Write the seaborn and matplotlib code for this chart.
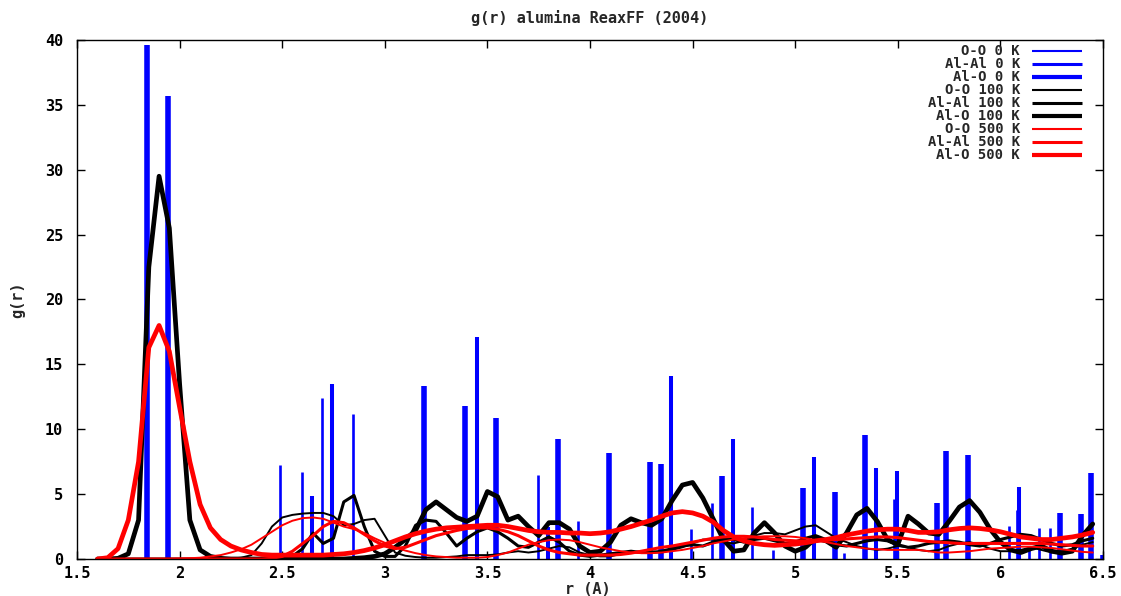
import matplotlib
matplotlib.use("Agg")
import matplotlib.pyplot as plt
import seaborn as sns
import pandas as pd

# ---------------- data ----------------
# sampling grid of the radial distribution (Angstrom)
r_grid = [1.60, 1.65, 1.70, 1.75, 1.80, 1.85, 1.90, 1.95, 2.00, 2.05,
          2.10, 2.15, 2.20, 2.25, 2.30, 2.35, 2.40, 2.45, 2.50, 2.55,
          2.60, 2.65, 2.70, 2.75, 2.80, 2.85, 2.90, 2.95, 3.00, 3.05,
          3.10, 3.15, 3.20, 3.25, 3.30, 3.35, 3.40, 3.45, 3.50, 3.55,
          3.60, 3.65, 3.70, 3.75, 3.80, 3.85, 3.90, 3.95, 4.00, 4.05,
          4.10, 4.15, 4.20, 4.25, 4.30, 4.35, 4.40, 4.45, 4.50, 4.55,
          4.60, 4.65, 4.70, 4.75, 4.80, 4.85, 4.90, 4.95, 5.00, 5.05,
          5.10, 5.15, 5.20, 5.25, 5.30, 5.35, 5.40, 5.45, 5.50, 5.55,
          5.60, 5.65, 5.70, 5.75, 5.80, 5.85, 5.90, 5.95, 6.00, 6.05,
          6.10, 6.15, 6.20, 6.25, 6.30, 6.35, 6.40, 6.45]

# 100 K
oo_100 = [0, 0, 0, 0, 0, 0, 0, 0, 0, 0,
          0, 0, 0, 0.03, 0.1, 0.3, 1.2, 2.5, 3.2, 3.4,
          3.5, 3.55, 3.55, 3.3, 2.6, 2.7, 3.0, 3.1, 1.8, 0.5,
          0.25, 0.15, 0.1, 0.1, 0.15, 0.2, 0.3, 0.3, 0.3, 0.35,
          0.5, 0.6, 0.5, 0.6, 0.8, 1.0, 0.9, 0.5, 0.3, 0.2,
          0.2, 0.4, 0.5, 0.6, 0.6, 0.5, 0.7, 0.9, 1.2, 1.5,
          1.5, 1.3, 1.2, 1.4, 1.8, 2.0, 2.0, 1.9, 2.2, 2.5,
          2.6, 2.1, 1.6, 1.3, 1.0, 0.8, 0.7, 0.8, 1.0, 0.9,
          0.7, 0.6, 0.7, 1.0, 1.2, 1.3, 1.1, 0.8, 0.6, 0.6,
          0.7, 0.9, 0.7, 0.5, 0.6, 0.8, 1.1, 1.3]
alal_100 = [0, 0, 0, 0, 0, 0, 0, 0, 0, 0,
            0, 0, 0, 0, 0, 0, 0, 0, 0.02, 0.2,
            0.8, 2.0, 1.2, 1.6, 4.4, 4.9, 2.5, 0.6, 0.2, 0.2,
            1.0, 2.6, 3.0, 2.9, 2.0, 1.0, 1.6, 2.1, 2.4, 2.1,
            1.6, 1.0, 0.9, 1.3, 1.7, 1.3, 0.6, 0.3, 0.2, 0.3,
            0.4, 0.5, 0.6, 0.5, 0.5, 0.6, 0.8, 1.0, 1.1, 1.0,
            1.3, 1.6, 1.5, 1.3, 1.5, 1.6, 1.4, 1.2, 1.3, 1.6,
            1.8, 1.5, 1.1, 1.0, 1.2, 1.4, 1.5, 1.4, 1.1, 0.9,
            1.0, 1.2, 1.3, 1.4, 1.3, 1.1, 1.0, 1.2, 1.5, 1.7,
            1.9, 1.8, 1.5, 1.2, 1.0, 1.1, 1.4, 1.6]
alo_100 = [0, 0, 0.05, 0.4, 3.0, 22.5, 29.5, 25.5, 13.5, 3.0,
           0.7, 0.2, 0.05, 0, 0, 0, 0, 0, 0, 0,
           0, 0, 0, 0, 0, 0.05, 0.1, 0.2, 0.4, 0.9,
           1.5, 2.2, 3.8, 4.4, 3.8, 3.2, 2.9, 3.3, 5.2, 4.8,
           3.0, 3.3, 2.5, 1.8, 2.8, 2.8, 2.3, 1.0, 0.5, 0.6,
           1.3, 2.6, 3.1, 2.8, 2.6, 3.1, 4.5, 5.7, 5.9, 4.7,
           3.1, 1.5, 0.6, 0.7, 2.0, 2.8, 2.0, 1.0, 0.6, 0.9,
           1.6, 1.4, 0.9, 2.0, 3.4, 3.9, 2.9, 1.5, 1.1, 3.3,
           2.7, 2.0, 1.9, 2.9, 4.0, 4.5, 3.6, 2.3, 1.3, 0.7,
           0.5, 0.8, 1.0, 0.6, 0.45, 0.6, 1.8, 2.7]

# 500 K
oo_500 = [0, 0, 0, 0, 0, 0, 0, 0, 0.03, 0.06,
          0.1, 0.2, 0.3, 0.5, 0.75, 1.1, 1.6, 2.1, 2.6, 2.95,
          3.15, 3.2, 3.1, 2.8, 2.5, 2.3, 2.0, 1.6, 1.25, 0.9,
          0.65, 0.45, 0.3, 0.2, 0.15, 0.1, 0.1, 0.1, 0.15, 0.3,
          0.5, 0.8, 1.1, 1.3, 1.45, 1.5, 1.45, 1.3, 1.1, 0.9,
          0.75, 0.6, 0.5, 0.45, 0.45, 0.5, 0.6, 0.7, 0.85, 1.0,
          1.2, 1.35, 1.5, 1.6, 1.7, 1.75, 1.75, 1.75, 1.7, 1.6,
          1.45, 1.3, 1.15, 1.0, 0.9, 0.8, 0.75, 0.7, 0.7, 0.7,
          0.7, 0.6, 0.5, 0.5, 0.55, 0.6, 0.7, 0.8, 0.85, 0.9,
          0.95, 0.95, 0.9, 0.85, 0.75, 0.65, 0.55, 0.5]
alal_500 = [0, 0, 0, 0, 0, 0, 0, 0, 0, 0,
            0, 0, 0, 0, 0, 0, 0, 0.05, 0.2, 0.6,
            1.2, 1.8, 2.5, 2.9, 2.8, 2.4, 1.9, 1.4, 1.0, 0.8,
            0.9, 1.2, 1.5, 1.8, 2.0, 2.2, 2.35, 2.4, 2.4, 2.3,
            2.1, 1.8, 1.4, 1.0, 0.7, 0.5, 0.4, 0.3, 0.3, 0.3,
            0.3, 0.35, 0.45, 0.6, 0.75, 0.9, 1.0, 1.15, 1.3, 1.45,
            1.6, 1.7, 1.75, 1.75, 1.7, 1.6, 1.5, 1.45, 1.4, 1.4,
            1.4, 1.45, 1.5, 1.55, 1.6, 1.65, 1.7, 1.7, 1.65, 1.55,
            1.45, 1.35, 1.3, 1.25, 1.2, 1.2, 1.2, 1.2, 1.2, 1.2,
            1.2, 1.2, 1.2, 1.15, 1.1, 1.05, 1.0, 1.0]
alo_500 = [0, 0.1, 0.8, 3.0, 7.5, 16.3, 18.0, 16.0, 11.7, 7.5,
           4.2, 2.4, 1.5, 1.0, 0.7, 0.5, 0.35, 0.3, 0.3, 0.3,
           0.3, 0.3, 0.3, 0.35, 0.4, 0.5, 0.65, 0.85, 1.1, 1.4,
           1.7, 1.95, 2.15, 2.3, 2.4, 2.45, 2.5, 2.55, 2.6, 2.6,
           2.5, 2.35, 2.2, 2.1, 2.05, 2.05, 2.0, 2.0, 1.95, 2.0,
           2.1, 2.3, 2.5, 2.75, 3.0, 3.3, 3.55, 3.65, 3.55, 3.3,
           2.85, 2.2, 1.7, 1.4, 1.2, 1.1, 1.05, 1.1, 1.15, 1.25,
           1.4, 1.5, 1.65, 1.85, 2.0, 2.15, 2.25, 2.3, 2.3, 2.2,
           2.05, 2.05, 2.1, 2.25, 2.35, 2.4, 2.35, 2.25, 2.1, 1.9,
           1.7, 1.6, 1.5, 1.5, 1.6, 1.7, 1.85, 2.05]

# 0 K: sharp shells of the perfect crystal (position, height)
oo_0_r = [2.489, 2.595, 2.692, 2.847, 3.745, 3.94, 4.49, 4.596, 4.789,
          4.89, 5.24, 5.48, 6.04, 6.08, 6.14, 6.19, 6.24]
oo_0_g = [7.24, 6.7, 12.4, 11.2, 6.47, 2.93, 2.31, 4.32, 4.0,
          0.7, 0.5, 4.6, 2.54, 3.78, 0.8, 2.39, 2.39]
alal_0_r = [2.647, 2.744, 3.448, 3.797, 4.393, 4.695, 5.09, 5.392, 5.494, 6.093]
alal_0_g = [4.86, 13.5, 17.1, 2.5, 14.1, 9.25, 7.86, 7.0, 6.78, 5.55]
alo_0_r = [1.843, 1.945, 3.193, 3.389, 3.542, 3.843, 4.094, 4.294, 4.345,
           4.643, 5.04, 5.194, 5.34, 5.69, 5.737, 5.844, 6.289, 6.393,
           6.442, 6.5]
alo_0_g = [39.6, 35.7, 13.3, 11.8, 10.9, 9.25, 8.17, 7.48, 7.32,
           6.42, 5.47, 5.16, 9.56, 4.32, 8.32, 8.0, 3.55, 3.47,
           6.63, 0.3]

labels = ["O-O 0 K", "Al-Al 0 K", "Al-O 0 K",
          "O-O 100 K", "Al-Al 100 K", "Al-O 100 K",
          "O-O 500 K", "Al-Al 500 K", "Al-O 500 K"]
x_ticks = [1.5, 2, 2.5, 3, 3.5, 4, 4.5, 5, 5.5, 6, 6.5]
x_tick_labels = ["1.5", "2", "2.5", "3", "3.5", "4", "4.5", "5", "5.5", "6", "6.5"]
y_ticks = [0, 5, 10, 15, 20, 25, 30, 35, 40]

# ---------------- style ----------------
sns.set_theme(style="white")
plt.rcParams['font.family'] = ['DejaVu Sans Mono']
plt.rcParams['font.weight'] = 'bold'
FS = 11        # ticks, title, axis labels
FS_KEY = 10    # key entries (tight rows)

BLUE, BLACK, RED = "#0000ff", "#000000", "#ff0000"
spike_w = [1.9, 2.9, 4.0]     # O-O, Al-Al, Al-O spikes
curve_w = [1.4, 2.2, 3.4]     # O-O, Al-Al, Al-O curves
key_w = [1.5, 2.2, 3.0]

fig = plt.figure(figsize=(11.21, 5.96), dpi=100)
ax = fig.add_axes([77 / 1121, 37 / 596, 1026 / 1121, 519 / 596])

# 0 K spikes
for rs, gs, w in [(oo_0_r, oo_0_g, spike_w[0]),
                  (alal_0_r, alal_0_g, spike_w[1]),
                  (alo_0_r, alo_0_g, spike_w[2])]:
    lc = ax.vlines(rs, 0, gs, colors=BLUE, linewidth=w)
    lc.set_capstyle("butt")

# finite temperature curves
curves = pd.DataFrame({"r": r_grid,
                       "oo100": oo_100, "alal100": alal_100, "alo100": alo_100,
                       "oo500": oo_500, "alal500": alal_500, "alo500": alo_500})
for col, color, w in [("oo100", BLACK, curve_w[0]), ("alal100", BLACK, curve_w[1]),
                      ("alo100", BLACK, curve_w[2]), ("oo500", RED, curve_w[0]),
                      ("alal500", RED, curve_w[1]), ("alo500", RED, curve_w[2])]:
    sns.lineplot(data=curves, x="r", y=col, color=color, linewidth=w,
                 estimator=None, sort=False, ax=ax)

ax.set_xlim(1.5, 6.5)
ax.set_ylim(0, 40)
ax.set_xticks(x_ticks)
ax.set_xticklabels(x_tick_labels)
ax.set_yticks(y_ticks)
ax.tick_params(direction="in", length=6, width=1, colors="black",
               top=True, right=True, bottom=True, left=True, labelsize=FS)
ax.tick_params(axis="x", pad=5)
ax.tick_params(axis="y", pad=10)
for s in ax.spines.values():
    s.set_color("black")
    s.set_linewidth(1)

ax.set_xlabel("r (A)", fontsize=FS, fontweight="bold", va="center")
ax.set_ylabel("g(r)", fontsize=FS, fontweight="bold", va="center")
ax.xaxis.set_label_coords((588 - 77) / 1026, (559 - 590) / 519)
ax.yaxis.set_label_coords((18 - 77) / 1026, (559 - 300) / 519)
ax.set_title("g(r) alumina ReaxFF (2004)", fontsize=FS, fontweight="bold",
             y=1 + 22 / 519, va="center", pad=0)

# key: right-aligned labels with line samples
colors = [BLUE] * 3 + [BLACK] * 3 + [RED] * 3
widths = key_w * 3
for i, (lab, c, w) in enumerate(zip(labels, colors, widths)):
    yy = 1 - (50.7 + 13.05 * i - 40) / 519
    ax.text((1020 - 77) / 1026, yy, lab, transform=ax.transAxes,
            ha="right", va="center", fontsize=FS_KEY, fontweight="bold")
    ax.plot([(1032 - 77) / 1026, (1082 - 77) / 1026], [yy, yy], color=c,
            linewidth=w, transform=ax.transAxes, solid_capstyle="butt")

ax.set_facecolor("white")
fig.patch.set_facecolor("white")
fig.savefig("out.png", dpi=100)
